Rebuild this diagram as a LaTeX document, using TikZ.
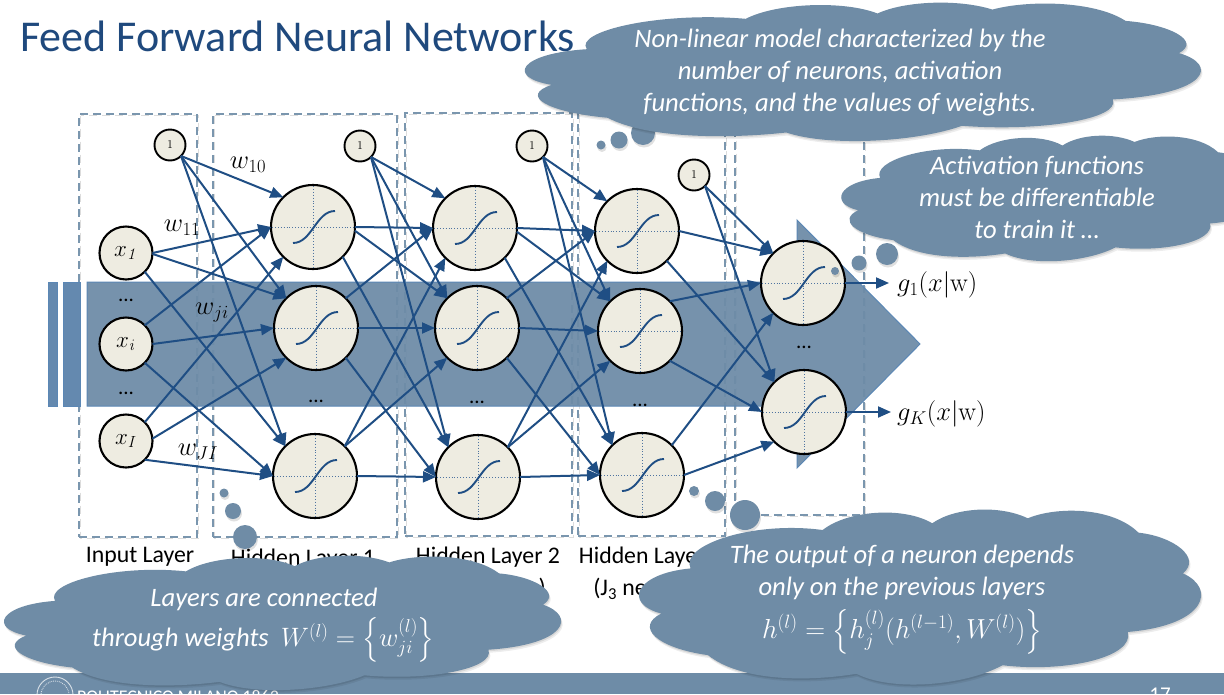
\RequirePackage{fix-cm}
\documentclass[tikz,border=0pt]{standalone}
\usepackage[no-math]{fontspec}
\usepackage{amsmath}
\setmainfont{Carlito}
\usetikzlibrary{arrows.meta}
\definecolor{bandc}{HTML}{6E8CA7}
\definecolor{bandedge}{HTML}{5B87B5}
\definecolor{stripec}{HTML}{6489AF}
\definecolor{cloudc}{HTML}{6F8CA6}
\definecolor{linec}{HTML}{1F4E84}
\definecolor{neuronc}{HTML}{EEECE1}
\definecolor{dashc}{HTML}{7A96AE}
\definecolor{dotc}{HTML}{4F74A0}
\definecolor{titlec}{HTML}{1F497D}
\newcommand{\cloudpath}{(.038,.585) .. controls (-.03,.53) and (-.01,.36) .. (.09,.33)
 .. controls (.07,.2) and (.2,.06) .. (.325,.113)
 .. controls (.37,.0) and (.47,-.02) .. (.52,.075)
 .. controls (.56,-.015) and (.64,-.03) .. (.69,.047)
 .. controls (.74,-.02) and (.84,-.02) .. (.887,.128)
 .. controls (.95,.15) and (1.0,.27) .. (.966,.358)
 .. controls (1.025,.44) and (1.01,.65) .. (.868,.689)
 .. controls (.88,.83) and (.76,.92) .. (.645,.877)
 .. controls (.58,.99) and (.45,1.03) .. (.385,.925)
 .. controls (.3,.97) and (.18,.97) .. (.121,.82)
 .. controls (.03,.78) and (-.01,.66) .. (.038,.585) -- cycle}
\newcommand{\bubblecloud}[4]{%
 \fill[black,opacity=.07,shift={(#1+1.5,#2+3)},x=#3pt,y=-#4pt] \cloudpath;
 \fill[black,opacity=.09,shift={(#1+.7,#2+1.5)},x=#3pt,y=-#4pt] \cloudpath;
 \fill[cloudc,shift={(#1,#2)},x=#3pt,y=-#4pt] \cloudpath;}
\newcommand{\puff}[3]{%
 \fill[black,opacity=.12] (#1+1,#2+2.5) circle (#3);
 \fill[cloudc] (#1,#2) circle (#3);}
\tikzset{
 conn/.style={draw=linec,line width=2pt,-{Triangle[length=13pt,width=11pt]}},
 neuron/.style={circle,draw=black,line width=2.1pt,fill=neuronc,minimum size=84pt,inner sep=0pt,outer sep=0pt},
 inputn/.style={circle,draw=black,line width=2.1pt,fill=neuronc,minimum size=53pt,inner sep=0pt,outer sep=0pt,font=\fontsize{23}{26}\selectfont},
 biasn/.style={circle,draw=black,line width=1.9pt,fill=neuronc,minimum size=31pt,inner sep=0pt,outer sep=0pt,font=\fontfamily{cmr}\fontsize{12}{13}\selectfont},
 layerbox/.style={draw=dashc,line width=1.6pt,dash pattern=on 8pt off 5pt,inner sep=0pt,outer sep=0pt},
 layershadow/.style={draw=black!45,opacity=.3,line width=1.6pt,dash pattern=on 8pt off 5pt},
 lab/.style={font=\fontsize{23.8}{27}\selectfont,inner sep=0pt,align=center},
 wlab/.style={font=\fontsize{26.5}{29}\selectfont,inner sep=0pt},
 glab/.style={font=\fontsize{26.5}{30}\selectfont,inner sep=0pt,anchor=west},
 dotsn/.style={font=\fontsize{21}{24}\selectfont,inner sep=0pt},
 cloudtext/.style={text=white,font=\fontsize{26.6}{32}\selectfont\itshape,align=center,inner sep=0pt},
}
\begin{document}
\begin{tikzpicture}[x=1pt,y=-1pt]
\useasboundingbox (0,0) rectangle (1224,694);
\fill[white] (0,0) rectangle (1224,694);
% footer
\fill[bandc] (0,673) rectangle (1224,694);
\node[circle,draw=white,line width=.9pt,minimum size=36pt,inner sep=0pt,opacity=.75] (logo) at (55,695) {};
\node[circle,draw=white,densely dotted,line width=.9pt,minimum size=28pt,inner sep=0pt,opacity=.7] (logoin) at (55,695) {};
\node[text=white,anchor=west,inner sep=0pt,font=\fontsize{17.8}{19}\selectfont] (poli) at (77,696.5) {POLITECNICO MILANO 1863};
\node[text=white,anchor=center,inner sep=0pt,font=\fontsize{21}{22}\selectfont] (pg) at (1160,695) {17};
% title
\node[anchor=west,text=titlec,inner sep=0pt,font=\fontsize{44}{48}\selectfont] (title) at (20,36) {Feed Forward Neural Networks};
% layer boxes
\foreach \n/\a/\b/\c/\d in {L0/79/114/197/537,L1/213/114/397/537,L2/405/113/572/536,L3/578/113/725/536,L4/735/113/864/515}{
 \draw[layershadow] (\a+1.5,\b+1.5) rectangle (\c+1.5,\d+1.5);
 \node[layerbox,minimum width=\c-\a,minimum height=\d-\b,anchor=north west] (\n) at (\a,\b) {};
}
% big arrow
\fill[bandc,fill opacity=.94,draw=bandedge,line width=1pt] (87,282) -- (797,282) -- (797,220) -- (920,344) -- (797,468) -- (797,406) -- (87,406) -- cycle;
\fill[stripec,draw=bandedge,line width=1pt] (48,282) rectangle (57,406);
\fill[stripec,draw=bandedge,line width=1pt] (63.5,282) rectangle (80,406);
% layer labels
\node[lab] (t0) at (140,557) {Input Layer};
\node[lab] (t1) at (303,559) {Hidden Layer 1};
\node[lab] (t2) at (488,557) {Hidden Layer 2};
\node[lab] (t2b) at (488,589) {(J\textsubscript{2} neurons)};
\node[lab] (t3) at (651,557) {Hidden Layer 3};
\node[lab] (t3b) at (651,589) {(J\textsubscript{3} neurons)};
% nodes
\node[inputn] (x1) at (126,253) {$x_{\mathit{1}}$};
\node[inputn] (xi) at (126,344) {$x_{\mathit{i}}$};
\node[inputn] (xI) at (126,441) {$x_{\mathit{I}}$};
\node[biasn] (b1) at (170,145) {1};
\node[biasn] (b2) at (360,146) {1};
\node[biasn] (b3) at (532,146) {1};
\node[biasn] (b4) at (694,175) {1};
\node[neuron] (a1) at (313,227) {};
\node[neuron] (a2) at (316,328) {};
\node[neuron] (a3) at (315,476) {};
\node[neuron] (c1) at (475,228) {};
\node[neuron] (c2) at (477,328) {};
\node[neuron] (c3) at (478,477) {};
\node[neuron] (d1) at (637,231) {};
\node[neuron] (d2) at (640,331) {};
\node[neuron] (d3) at (642,475) {};
\node[neuron] (o1) at (803,283) {};
\node[neuron] (o2) at (804,412) {};
\foreach \n in {a1,a2,a3,c1,c2,c3,d1,d2,d3,o1,o2}{
 \begin{scope}[shift={(\n.center)}]
 \draw[dotc,line width=.9pt,dotted] (-41,0) -- (41,0);
 \draw[dotc,line width=.9pt,dotted] (0,-41) -- (0,41);
 \draw[linec,line width=1.9pt] (-20,16) .. controls (-1,16) and (3,-16) .. (22,-16);
 \end{scope}
}
% connectors
\foreach \s/\sa/\t/\ta in {b1/-45/a1/135,b1/-45/a2/135,b1/-45/a3/135,
 x1/0/a1/180,x1/-2/a2/135,x1/-45/a3/135,
 xi/45/a1/180,xi/0/a2/180,xi/-45/a3/180,
 xI/45/a1/225,xI/5/a2/225,xI/-45/a3/180,
 b2/-45/c1/135,b2/-45/c2/135,b2/-45/c3/135,
 a1/0/c1/180,a1/-5/c2/135,a1/-45/c3/135,
 a2/45/c1/180,a2/0/c2/180,a2/-45/c3/180,
 a3/45/c1/225,a3/45/c2/225,a3/0/c3/180,
 b3/-45/d1/135,b3/-45/d2/135,b3/-45/d3/135,
 c1/0/d1/180,c1/-5/d2/135,c1/-45/d3/135,
 c2/45/d1/180,c2/0/d2/180,c2/-45/d3/180,
 c3/45/d1/225,c3/45/d2/225,c3/0/d3/180,
 b4/-45/o1/135,b4/-45/o2/135,
 d1/0/o1/135,d1/-45/o2/135,
 d2/45/o1/180,d2/-45/o2/180,
 d3/45/o1/225,d3/0/o2/225}{
 \draw[conn] (\s.\sa) -- (\t.\ta);
}
\coordinate (e1) at (889,283);
\coordinate (e2) at (891,412);
\draw[conn] (o1.0) -- (e1);
\draw[conn] (o2.0) -- (e2);
% dots
\node[dotsn] (m1) at (126,300) {...};
\node[dotsn] (m2) at (126,393) {...};
\node[dotsn] (m3) at (316,401) {...};
\node[dotsn] (m4) at (477,402) {...};
\node[dotsn] (m5) at (640,405) {...};
\node[dotsn] (m6) at (804,347) {...};
% weights
\node[wlab] (w1) at (248,165) {$w_{10}$};
\node[wlab] (w2) at (182,228) {$w_{11}$};
\node[wlab] (w3) at (212,313) {$w_{ji}$};
\node[wlab] (w4) at (198,452) {$w_{JI}$};
\node[glab] (g1) at (897,285) {$g_1(x|\mathrm{w})$};
\node[glab] (g2) at (897,414) {$g_K(x|\mathrm{w})$};
% clouds
\puff{601}{145}{4.5}\puff{619}{140}{8.5}\puff{643}{133}{12}
\bubblecloud{526}{3}{676}{140}
\node[cloudtext] (n1) at (840,73) {Non-linear model characterized by the\\number of neurons, activation\\functions, and the values of weights.};
\puff{835}{271}{4}\puff{859}{263}{7.5}\puff{887}{254}{11}
\bubblecloud{842}{136}{424}{127}
\node[cloudtext] (n2) at (1037,197.5) {Activation functions\\must be differentiable\\to train it \dots};
\puff{224}{493}{4.5}\puff{233}{511}{8}\puff{245}{537}{12}
\bubblecloud{5}{556}{557}{136}
\node[cloudtext] (n3) at (264,599) {Layers are connected};
\node[cloudtext,anchor=west] (n4) at (92,640) {through weights\ \ $W^{(l)}=\left\{w_{ji}^{(l)}\right\}$};
\puff{694}{491}{5}\puff{715}{501}{10}\puff{745}{515}{15}
\bubblecloud{640}{510}{562}{177}
\node[cloudtext] (n5) at (902,572) {The output of a neuron depends\\only on the previous layers};
\node[cloudtext,font=\fontsize{27.5}{32}\selectfont] (n6) at (902,632) {$h^{(l)}=\left\{h_j^{(l)}(h^{(l-1)},W^{(l)})\right\}$};
\end{tikzpicture}
\end{document}
